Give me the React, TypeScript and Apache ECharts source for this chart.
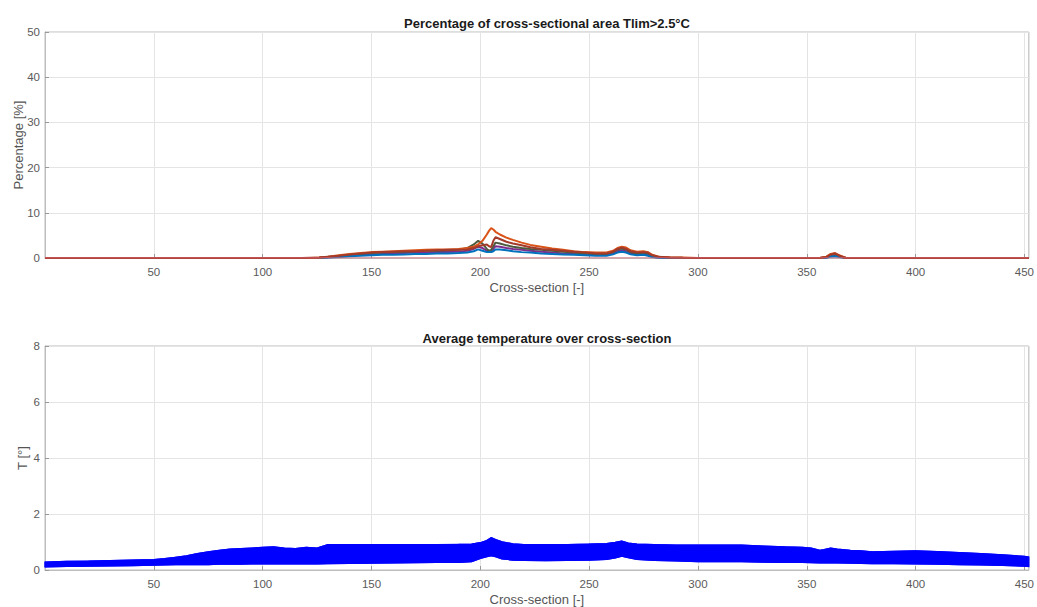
import React, { useEffect, useRef } from "react";
import * as echarts from "echarts";

// ---------- data ----------
const xTop = [0, 118, 122, 126, 130, 135, 140, 145, 150, 155, 160, 165, 170, 175, 180, 185, 190, 194, 197, 199, 201, 203, 204, 205, 206, 207, 209, 212, 215, 219, 223, 228, 233, 238, 243, 248, 253, 258, 261, 263, 265, 267, 269, 272, 275, 277, 279, 282, 287, 293, 300, 356, 359, 361, 363, 365, 368, 452];

const pctOrange = [0, 0, 0, 0.1, 0.3, 0.6, 0.9, 1.1, 1.3, 1.4, 1.5, 1.6, 1.7, 1.8, 1.9, 1.9, 2.0, 2.2, 2.5, 3.0, 3.8, 5.2, 6.0, 6.6, 6.3, 5.8, 5.2, 4.5, 4.0, 3.4, 2.9, 2.5, 2.1, 1.8, 1.5, 1.3, 1.2, 1.2, 1.6, 2.2, 2.5, 2.3, 1.7, 1.4, 1.5, 1.3, 0.7, 0.3, 0.15, 0.1, 0, 0, 0.3, 0.9, 1.1, 0.6, 0, 0];
const pctGreen = [0, 0, 0, 0.05, 0.2, 0.4, 0.7, 0.9, 1.1, 1.2, 1.3, 1.4, 1.5, 1.6, 1.6, 1.7, 1.8, 2.2, 3.0, 3.8, 3.2, 2.0, 1.6, 1.8, 2.6, 3.4, 3.2, 2.8, 2.5, 2.2, 2.0, 1.8, 1.6, 1.4, 1.2, 1.0, 0.9, 0.9, 1.3, 1.9, 2.1, 1.9, 1.3, 1.0, 1.2, 1.0, 0.5, 0.2, 0.1, 0.05, 0, 0, 0.2, 0.7, 0.8, 0.4, 0, 0];
const pctPurple = [0, 0, 0, 0.05, 0.15, 0.3, 0.5, 0.7, 0.8, 0.9, 1.0, 1.1, 1.2, 1.2, 1.3, 1.3, 1.4, 1.6, 2.0, 2.5, 2.2, 1.6, 1.4, 1.5, 2.0, 2.6, 2.5, 2.2, 2.0, 1.8, 1.6, 1.4, 1.2, 1.0, 0.9, 0.8, 0.7, 0.7, 1.0, 1.5, 1.7, 1.5, 1.0, 0.8, 0.9, 0.7, 0.3, 0.1, 0.05, 0, 0, 0, 0.1, 0.5, 0.6, 0.3, 0, 0];
const pctRed = [0, 0, 0.05, 0.1, 0.3, 0.5, 0.8, 1.0, 1.2, 1.3, 1.4, 1.5, 1.5, 1.6, 1.7, 1.8, 1.8, 1.9, 2.2, 2.6, 2.8, 3.0, 2.6, 2.4, 3.8, 4.6, 4.2, 3.6, 3.2, 2.8, 2.4, 2.0, 1.8, 1.6, 1.4, 1.2, 1.0, 1.0, 1.4, 2.0, 2.3, 2.0, 1.5, 1.2, 1.3, 1.2, 0.6, 0.25, 0.1, 0.05, 0, 0, 0.2, 0.8, 1.0, 0.5, 0, 0];
const pctBlue = [0, 0, 0, 0, 0.1, 0.2, 0.4, 0.5, 0.6, 0.7, 0.7, 0.8, 0.9, 0.9, 1.0, 1.0, 1.1, 1.2, 1.5, 1.9, 1.6, 1.3, 1.3, 1.3, 1.5, 1.9, 1.9, 1.7, 1.5, 1.3, 1.2, 1.0, 0.9, 0.8, 0.7, 0.6, 0.5, 0.5, 0.8, 1.2, 1.4, 1.2, 0.8, 0.6, 0.7, 0.5, 0.2, 0.05, 0, 0, 0, 0, 0.05, 0.3, 0.4, 0.2, 0, 0];
const baselineX = [0, 452];
const baselineY = [0, 0];

const xBottom = [0, 10, 20, 30, 40, 50, 55, 60, 65, 70, 75, 80, 85, 90, 95, 100, 105, 110, 115, 120, 125, 130, 140, 150, 160, 170, 180, 190, 196, 200, 203, 205, 207, 210, 215, 220, 230, 240, 250, 258, 262, 265, 268, 272, 280, 290, 300, 310, 320, 330, 340, 348, 352, 356, 358, 361, 364, 370, 375, 380, 390, 400, 410, 420, 430, 440, 450, 452];
const tempUpper = [0.28, 0.3, 0.31, 0.33, 0.35, 0.37, 0.4, 0.45, 0.5, 0.58, 0.64, 0.7, 0.74, 0.76, 0.78, 0.8, 0.82, 0.78, 0.76, 0.8, 0.78, 0.9, 0.9, 0.9, 0.9, 0.9, 0.9, 0.91, 0.92, 0.97, 1.05, 1.15, 1.08, 1.0, 0.93, 0.9, 0.9, 0.9, 0.92, 0.94, 0.98, 1.03, 0.96, 0.92, 0.9, 0.88, 0.88, 0.88, 0.88, 0.85, 0.82, 0.8, 0.78, 0.7, 0.72, 0.78, 0.74, 0.7, 0.68, 0.64, 0.66, 0.68, 0.65, 0.62, 0.58, 0.54, 0.48, 0.46];
const tempLower = [0.12, 0.13, 0.14, 0.15, 0.16, 0.18, 0.19, 0.2, 0.2, 0.2, 0.2, 0.21, 0.21, 0.21, 0.22, 0.22, 0.22, 0.22, 0.22, 0.22, 0.22, 0.23, 0.24, 0.25, 0.26, 0.27, 0.28, 0.28, 0.3, 0.42, 0.48, 0.52, 0.48, 0.4, 0.36, 0.35, 0.34, 0.35, 0.36, 0.38, 0.44, 0.5, 0.45, 0.38, 0.35, 0.33, 0.3, 0.3, 0.3, 0.29, 0.28, 0.28, 0.27, 0.26, 0.26, 0.27, 0.26, 0.25, 0.24, 0.23, 0.23, 0.22, 0.21, 0.2, 0.19, 0.17, 0.14, 0.13];

const xTicks = [0, 50, 100, 150, 200, 250, 300, 350, 400, 450];
const pctTicks = [0, 10, 20, 30, 40, 50];
const tempTicks = [0, 2, 4, 6, 8];

const FONT = "'Liberation Sans', Arial, sans-serif";

export default function App() {
  const ref = useRef<HTMLDivElement>(null);
  useEffect(() => {
    if (!ref.current) return;
    const chart = echarts.init(ref.current, undefined, { renderer: "svg" });
    const pair = (xs: number[], ys: number[]) => xs.map((x, i) => [x, ys[i]]);
    const gridLeft = 45;
    const gridRight = 4;
    const axisColor = "#bdbdbd";
    const labelColor = "#5a5a5a";
    const xAxisBase = (gridIndex: number) => ({
      type: "value",
      gridIndex,
      min: xTicks[0],
      max: 452,
      interval: xTicks[1] - xTicks[0],
      name: "Cross-section [-]",
      nameLocation: "middle",
      nameGap: 23,
      nameMoveOverlap: false,
      nameTextStyle: { color: "#555", fontSize: 13, fontFamily: FONT },
      axisLine: { show: true, lineStyle: { color: axisColor } },
      axisTick: { show: true, inside: true, length: 4, lineStyle: { color: "#999" } },
      axisLabel: { color: labelColor, fontSize: 11.5, fontFamily: FONT, margin: 8, showMinLabel: false, showMaxLabel: false },
      splitLine: { show: true, lineStyle: { color: "#e4e4e4" } },
    });
    const yAxisBase = (gridIndex: number, ticks: number[], name: string, gap: number) => ({
      type: "value",
      gridIndex,
      min: ticks[0],
      max: ticks[ticks.length - 1],
      interval: ticks[1] - ticks[0],
      name,
      nameLocation: "middle",
      nameGap: gap,
      nameMoveOverlap: false,
      nameTextStyle: { color: "#555", fontSize: 13, fontFamily: FONT },
      axisLine: { show: true, lineStyle: { color: axisColor } },
      axisTick: { show: true, inside: true, length: 4, lineStyle: { color: "#999" } },
      axisLabel: { color: labelColor, fontSize: 11.5, fontFamily: FONT, margin: 5 },
      splitLine: { show: true, lineStyle: { color: "#e4e4e4" } },
    });
    const pctColors = ["#7E2F8E", "#4d5a40", "#0072BD", "#D95319", "#a33a2a"];
    const pctData = [pctPurple, pctGreen, pctBlue, pctOrange, pctRed];
    const topSeries = pctData.map((d, i) => ({
      type: "line",
      xAxisIndex: 0,
      yAxisIndex: 0,
      data: pair(xTop, d),
      showSymbol: false,
      lineStyle: { color: pctColors[i], width: 2 },
      z: 2 + i,
    }));
    chart.setOption({
      animation: false,
      title: [
        {
          text: "Percentage of cross-sectional area Tlim>2.5°C",
          left: 542,
          top: 12,
          textAlign: "center",
          textStyle: { fontSize: 13, fontWeight: "bold", color: "#1a1a1a", fontFamily: FONT },
        },
        {
          text: "Average temperature over cross-section",
          left: 542,
          top: 327,
          textAlign: "center",
          textStyle: { fontSize: 13, fontWeight: "bold", color: "#1a1a1a", fontFamily: FONT },
        },
      ],
      grid: [
        { left: gridLeft, right: gridRight, top: 32, height: 226, show: true, borderColor: axisColor, borderWidth: 1 },
        { left: gridLeft, right: gridRight, top: 346, height: 226, show: true, borderColor: axisColor, borderWidth: 1 },
      ],
      xAxis: [xAxisBase(0), xAxisBase(1)],
      yAxis: [yAxisBase(0, pctTicks, "Percentage [%]", 20), yAxisBase(1, tempTicks, "T [°]", 16)],
      series: [
        ...topSeries,
        {
          type: "line",
          xAxisIndex: 0,
          yAxisIndex: 0,
          data: pair(baselineX, baselineY),
          showSymbol: false,
          lineStyle: { color: "#e0697c", width: 1.2 },
          z: 10,
        },
        {
          type: "custom",
          xAxisIndex: 1,
          yAxisIndex: 1,
          data: [[xBottom[0], tempLower[0]]],
          renderItem: (_params: any, api: any) => {
            const upperPts = xBottom.map((x, i) => api.coord([x, tempUpper[i]]));
            const lowerPts = xBottom.map((x, i) => api.coord([x, tempLower[i]])).reverse();
            return {
              type: "polygon",
              shape: { points: upperPts.concat(lowerPts) },
              style: { fill: "#0000ff", stroke: "#0000ff", lineWidth: 1.5 },
            };
          },
          z: 2,
        },
        {
          type: "line",
          xAxisIndex: 1,
          yAxisIndex: 1,
          data: pair(xBottom, tempUpper),
          showSymbol: false,
          lineStyle: { color: "#0000ff", width: 1.5 },
          z: 3,
        },
        {
          type: "line",
          xAxisIndex: 1,
          yAxisIndex: 1,
          data: pair(xBottom, tempLower),
          showSymbol: false,
          lineStyle: { color: "#0000ff", width: 1.5 },
          z: 3,
        },
      ],
    });
    return () => chart.dispose();
  }, []);
  return (
    <div
      ref={ref}
      style={{ position: "fixed", left: 0, top: 0, width: 1037, height: 607, background: "#fff" }}
    />
  );
}
